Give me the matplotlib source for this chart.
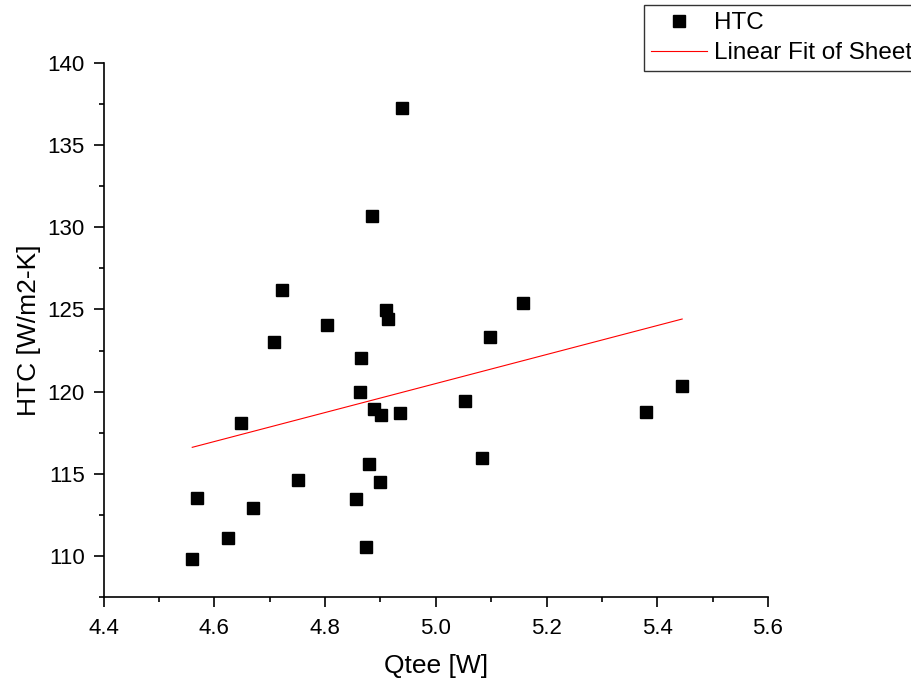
import numpy as np
import matplotlib
matplotlib.use("Agg")
import matplotlib.pyplot as plt
from matplotlib.ticker import MultipleLocator

plt.rcParams['font.family'] = ['Liberation Sans', 'DejaVu Sans']

# Qtee [W] vs HTC [W/m2-K]
qtee = [4.560, 4.568, 4.625, 4.669, 4.751, 4.856, 4.648, 4.708, 4.722, 4.804,
        4.939, 4.885, 4.910, 4.914, 4.865, 5.158, 5.098, 4.863, 4.889, 4.901,
        4.936, 5.053, 4.880, 4.899, 4.874, 5.084, 5.380, 5.445]
htc = [109.79, 113.51, 111.07, 112.90, 114.63, 113.47, 118.08, 123.02, 126.19, 124.05,
       137.28, 130.69, 124.97, 124.42, 122.04, 125.39, 123.32, 119.99, 118.95, 118.59,
       118.71, 119.44, 115.58, 114.49, 110.54, 115.97, 118.75, 120.33]

x = np.array(qtee)
y = np.array(htc)

# linear fit over the data range
slope, intercept = np.polyfit(x, y, 1)
xfit = np.array([x.min(), x.max()])
yfit = slope * xfit + intercept

fig = plt.figure(figsize=(9.11, 6.87), dpi=100)
ax = fig.add_axes([0.1138, 0.1314, 0.843 - 0.1138, 0.9079 - 0.1314])

ax.plot(x, y, 's', color='black', markersize=8.6, linestyle='none', label='HTC')
ax.plot(xfit, yfit, color='red', linewidth=0.8, label='Linear Fit of Sheet1 HTC')

ax.set_xlim(4.4, 5.6)
ax.set_ylim(107.5, 140)
ax.xaxis.set_major_locator(MultipleLocator(0.2))
ax.xaxis.set_minor_locator(MultipleLocator(0.1))
ax.yaxis.set_major_locator(MultipleLocator(5))
ax.yaxis.set_minor_locator(MultipleLocator(2.5))

for side in ['top', 'right']:
    ax.spines[side].set_visible(False)
for side in ['left', 'bottom']:
    ax.spines[side].set_linewidth(1.2)

ax.tick_params(which='major', direction='out', length=7, width=1.2, labelsize=16)
ax.tick_params(which='minor', direction='out', length=3.5, width=1.2)
ax.tick_params(axis='x', which='major', pad=8)
ax.tick_params(axis='y', which='major', pad=6.5)

ax.set_xlabel('Qtee [W]', fontsize=19, labelpad=11)
ax.set_ylabel('HTC [W/m2-K]', fontsize=19, labelpad=5)

# legend sits partly past the right edge, as in the original
leg = fig.legend(loc='upper left', bbox_to_anchor=(644 / 911, 1 - 5 / 687),
                 fontsize=17.5, frameon=True, fancybox=False, edgecolor='black',
                 handlelength=2.3, handletextpad=0.3, labelspacing=0.32,
                 borderpad=0.3, borderaxespad=0, markerscale=1.0)
leg.get_frame().set_linewidth(1.0)

fig.savefig('out.png', dpi=100)
